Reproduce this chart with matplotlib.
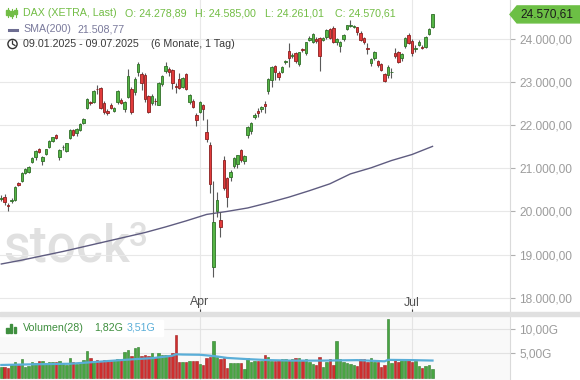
import matplotlib
matplotlib.use("Agg")
import matplotlib.pyplot as plt
import numpy as np
from matplotlib.patches import Polygon, Rectangle, Circle
from matplotlib.lines import Line2D
from matplotlib.transforms import IdentityTransform, blended_transform_factory

plt.rcParams['font.family'] = ['Liberation Sans', 'DejaVu Sans']

# ---------------- data ----------------
opens = [
    20290, 20330, 20160, 20250, 20265, 20665, 20710, 20890, 20910, 21150,
    21255, 21450, 21175, 21330, 21485, 21640, 21775, 21270, 21490, 21410,
    21695, 21890, 21810, 21890, 22060, 22390, 22530, 22545, 22840, 22855,
    22510, 22330, 22470, 22340, 22545, 22585, 22375, 22660, 22830, 22780,
    23227, 23190, 23165, 22680, 22510, 22570, 22476, 22955, 23265, 23296,
    23280, 22910, 23080, 22890, 23190, 22545, 22560, 22237, 22314, 22470,
    21849, 21541, 18717, 20009, 19800, 21192, 20775, 20790, 21053, 21100,
    21416, 21169, 21772, 21872, 22200, 22330, 22380, 22485, 22794, 23049,
    23374, 23218, 23241, 23460, 23729, 23600, 23682, 23413, 23770, 23682,
    23977, 23938, 24000, 24015, 23977, 24039, 24232, 24248, 23938, 23838,
    23992, 24232, 24302, 24290, 24267, 24131, 24015, 23790, 23436, 23566,
    23482, 23413, 23181, 23165, 23230, 23667, 23690, 23552, 23845, 24093,
    23954, 23770, 23861, 23822, 23822, 24108, 24278.89]
highs = [
    20380, 20400, 20200, 20320, 20590, 20690, 20920, 21000, 21050, 21270,
    21420, 21480, 21290, 21450, 21650, 21730, 21800, 21440, 21530, 21590,
    21920, 21910, 21930, 22040, 22160, 22630, 22560, 22810, 22930, 22880,
    22560, 22380, 22520, 22430, 22810, 22630, 22560, 23300, 22880, 23120,
    23475, 23230, 23200, 22710, 22720, 22640, 23000, 23160, 23476, 23340,
    23300, 22990, 23200, 23130, 23200, 22720, 22600, 22280, 22560, 22500,
    22137, 21600, 20700, 20457, 19995, 21285, 20800, 20960, 21260, 21320,
    21450, 21320, 21990, 22080, 22280, 22400, 22440, 22560, 23100, 23380,
    23400, 23260, 23380, 23520, 23914, 23680, 23700, 23710, 23800, 23940,
    24060, 24130, 24050, 24040, 24050, 24230, 24260, 24300, 24020, 23960,
    24110, 24330, 24441, 24330, 24290, 24180, 24050, 23900, 23560, 23720,
    23520, 23440, 23200, 23400, 23330, 23800, 23720, 23680, 24050, 24150,
    23990, 23850, 23970, 23850, 24080, 24250, 24585.00]
lows = [
    20250, 20150, 20020, 20200, 20240, 20580, 20690, 20870, 20880, 21130,
    21200, 21350, 21080, 21300, 21460, 21600, 21690, 21200, 21420, 21380,
    21680, 21750, 21760, 21860, 22020, 22370, 22480, 22520, 22717, 22380,
    22260, 22230, 22380, 22300, 22500, 22500, 22300, 22620, 22250, 22700,
    23150, 22817, 22540, 22290, 22470, 22480, 22460, 22920, 23200, 23150,
    22833, 22740, 22830, 22860, 22820, 22500, 22400, 21981, 22280, 22120,
    21617, 20434, 18489, 19877, 19406, 20500, 20110, 20700, 21000, 21000,
    21150, 21100, 21700, 21800, 22150, 22200, 22300, 22276, 22720, 22880,
    23060, 23050, 23200, 23430, 23357, 23560, 23450, 23380, 23700, 23620,
    23950, 23900, 23900, 23265, 23950, 24000, 24000, 23900, 23850, 23700,
    23950, 24200, 24280, 24250, 24100, 23950, 23880, 23650, 23380, 23520,
    23360, 23250, 23000, 23088, 23100, 23550, 23450, 23500, 23800, 23880,
    23600, 23700, 23830, 23760, 23800, 24090, 24261.01]
closes = [
    20317, 20215, 20132, 20271, 20575, 20615, 20890, 20985, 21025, 21250,
    21410, 21370, 21255, 21440, 21640, 21717, 21710, 21424, 21505, 21580,
    21890, 21775, 21910, 22030, 22135, 22600, 22505, 22795, 22830, 22410,
    22300, 22280, 22410, 22405, 22790, 22525, 22545, 23140, 22315, 23070,
    23420, 22985, 22600, 22315, 22680, 22560, 22985, 23140, 23375, 23241,
    22990, 22880, 22860, 23100, 22840, 22700, 22430, 22121, 22531, 22369,
    21671, 20636, 19761, 20265, 19645, 20543, 20341, 20925, 21232, 21300,
    21192, 21284, 21965, 22058, 22237, 22290, 22415, 22445, 23065, 23343,
    23227, 23111, 23358, 23480, 23552, 23629, 23497, 23690, 23755, 23923,
    24015, 24116, 23961, 23613, 24015, 24209, 24015, 23923, 23992, 23938,
    24093, 24325, 24323, 24304, 24155, 23977, 23923, 23775, 23529, 23690,
    23397, 23281, 23033, 23358, 23245, 23613, 23474, 23644, 24015, 23900,
    23667, 23790, 23923, 23784, 24054, 24225, 24570.61]
volumes = [  # in G
    2.2, 2.2, 1.9, 2.7, 3.3, 2.6, 3.8, 2.2, 2.3, 3.3,
    3.0, 3.5, 3.5, 3.1, 3.2, 3.3, 3.3, 3.5, 2.8, 2.5,
    4.0, 3.3, 2.8, 3.1, 3.6, 5.5, 4.0, 3.3, 3.6, 3.5,
    3.6, 3.5, 3.4, 3.6, 3.8, 3.8, 5.3, 5.7, 4.4, 6.1,
    6.2, 4.4, 4.6, 4.5, 5.0, 4.3, 5.0, 4.6, 4.6, 4.6,
    5.1, 8.7, 3.3, 3.3, 3.3, 3.5, 3.5, 3.5, 2.8, 2.6,
    4.0, 4.3, 7.5, 4.3, 3.8, 4.0, 1.9, 3.1, 3.1, 3.0,
    3.1, 1.8, 4.0, 3.3, 3.5, 3.5, 3.5, 4.6, 4.3, 3.5,
    3.5, 3.6, 3.8, 3.8, 3.6, 3.8, 4.0, 4.0, 3.6, 3.8,
    3.3, 2.8, 2.6, 4.2, 2.1, 3.3, 3.8, 2.6, 7.5, 3.8,
    3.3, 3.1, 2.8, 2.6, 2.4, 3.8, 3.8, 3.3, 4.0, 3.3,
    3.3, 2.2, 2.5, 12.0, 3.1, 3.8, 3.3, 3.6, 3.6, 3.8,
    3.3, 3.4, 2.4, 2.0, 2.4, 2.6, 1.82]

sma_idx = [0, 6, 12, 18, 24, 30, 36, 42, 48, 54, 60, 66, 72, 78, 84, 90,
           96, 102, 108, 114, 120, 126]
sma_val = [18780, 18870, 18970, 19070, 19180, 19290, 19400, 19510, 19640,
           19780, 19930, 20000, 20080, 20200, 20330, 20480, 20640, 20870,
           21010, 21180, 21320, 21508.77]

vma_idx = [0, 10, 20, 29, 39, 44, 50, 51, 53, 58, 62, 66, 72, 78, 85, 94,
           104, 112, 113, 120, 126]
vma_val = [2.6, 2.75, 2.85, 3.3, 3.8, 4.0, 4.5, 4.8, 4.75, 4.7, 4.45, 4.05,
           3.8, 3.6, 3.5, 3.5, 3.6, 3.35, 3.65, 3.6, 3.51]

month_labels = ['Apr', 'Jul']
month_pos = [58, 120]
price_ticks = [18000, 19000, 20000, 21000, 22000, 23000, 24000]
vol_ticks = [5, 10]

assert len(opens) == len(highs) == len(lows) == len(closes) == len(volumes) == 127

# ---------------- helpers ----------------
W, H = 580, 380


def fx(px):
    return px / W


def fy(py):
    return 1 - py / H


def de(v, d=2):
    s = f"{v:,.{d}f}"
    return s.replace(',', 'X').replace('.', ',').replace('X', '.')


o = np.array(opens, float)
h = np.array(highs, float)
l = np.array(lows, float)
c = np.array(closes, float)
v = np.array(volumes, float)
x = np.arange(len(o))
up = c >= o

fig = plt.figure(figsize=(W / 100, H / 100), dpi=100)
fig.patch.set_facecolor('white')

# ---------------- price panel ----------------
ax = fig.add_axes([0, fy(312), fx(510), 312 / H])
ax.set_xlim(-0.38, 148.64)
ax.set_ylim(17666, 24905)
ax.set_facecolor('white')

for s in ['top', 'left', 'bottom']:
    ax.spines[s].set_visible(False)
ax.spines['right'].set_color('#dadada')
ax.spines['right'].set_linewidth(0.8)

ax.set_yticks(price_ticks)
ax.set_yticklabels([de(t) for t in price_ticks])
ax.yaxis.tick_right()
ax.tick_params(axis='y', length=3.5, width=0.8, color='#b0b0b0', pad=3,
               labelsize=8.6, labelcolor='#9c9c9c')
ax.set_xticks([])
ax.grid(axis='y', color='#e8e8e8', lw=0.8)
ax.set_axisbelow(True)
for p in month_pos:
    ax.axvline(p, color='#e8e8e8', lw=0.8, zorder=0)

# watermark
ax.text(fx(3), fy(262), 'stock', transform=fig.transFigure, fontsize=37,
        family=['Roboto', 'DejaVu Sans'], fontweight='medium',
        color='#e0e0e0', zorder=0.5, va='baseline', ha='left')
ax.text(fx(129), fy(246), '3', transform=fig.transFigure, fontsize=24,
        family=['Roboto', 'DejaVu Sans'], fontweight='medium',
        color='#e0e0e0', zorder=0.5, va='baseline', ha='left')

# SMA
ax.plot(sma_idx, sma_val, color='#5f5c80', lw=1.0, zorder=2.5)

# candles
ax.vlines(x, l, h, color='#5a5a5a', lw=0.8, zorder=3)
bottoms = np.minimum(o, c)
heights = np.maximum(np.abs(c - o), 10)
fill = np.where(up, '#55b545', '#e23b3b')
edge = np.where(up, '#2f6f28', '#8a1f1f')
ax.bar(x, heights, bottom=bottoms, width=0.72, color=fill, edgecolor=edge,
       lw=0.6, zorder=4)

# month labels
bt = blended_transform_factory(ax.transData, fig.transFigure)
for p, lab in zip(month_pos, month_labels):
    ax.text(p, fy(302.5), lab, transform=bt, ha='center', va='center',
            fontsize=8.8, color='#505050', clip_on=False)
ax.vlines(month_pos, fy(312), fy(308.5), transform=bt, color='#444444',
          lw=0.8, clip_on=False)

# ---------------- volume panel ----------------
axv = fig.add_axes([0, 0, fx(510), 65 / H])
axv.set_xlim(-0.38, 148.64)
axv.set_ylim(-0.49, 12.88)
axv.set_facecolor('#f9f9f9')
for s in ['top', 'left', 'bottom']:
    axv.spines[s].set_visible(False)
axv.spines['right'].set_color('#dadada')
axv.spines['right'].set_linewidth(0.8)
axv.set_yticks(vol_ticks)
axv.set_yticklabels([de(t) + 'G' for t in vol_ticks])
axv.yaxis.tick_right()
axv.tick_params(axis='y', length=3.5, width=0.8, color='#b0b0b0', pad=3,
                labelsize=8.6, labelcolor='#9c9c9c')
axv.set_xticks([])
axv.grid(axis='y', color='#e2e2e2', lw=0.8)
axv.set_axisbelow(True)
for p in month_pos:
    axv.axvline(p, color='#e4e4e4', lw=0.8, zorder=0)

vfill = np.where(up, '#48a542', '#cf2e2e')
vedge = np.where(up, '#2e7d2a', '#9e1f1f')
axv.bar(x, v, width=0.72, color=vfill, edgecolor=vedge, lw=0.4, zorder=2)
axv.plot(vma_idx, vma_val, color='#5aaed8', lw=1.6, zorder=3)

# separator band
fig.add_artist(Rectangle((0, fy(315.5)), 1, 3.2 / H, transform=fig.transFigure,
                         color='#e0e0e0', zorder=5))

# ---------------- legends ----------------
green_txt = '#72bd45'
fs = 7.7
fig.text(fx(23), fy(13), 'DAX (XETRA, Last)', color=green_txt, fontsize=fs, va='center')
fig.text(fx(125), fy(13), 'O: ' + de(opens[-1]), color=green_txt, fontsize=fs, va='center')
fig.text(fx(195), fy(13), 'H: ' + de(highs[-1]), color=green_txt, fontsize=fs, va='center')
fig.text(fx(265), fy(13), 'L: ' + de(lows[-1]), color=green_txt, fontsize=fs, va='center')
fig.text(fx(335), fy(13), 'C: ' + de(closes[-1]), color=green_txt, fontsize=fs, va='center')

# candle icon
for cx, (y1, y2, b1, b2) in zip([7.5, 11.5, 15.5],
                                [(8, 17, 10, 15), (9, 18, 11, 16), (8, 17, 10, 14)]):
    fig.add_artist(Line2D([cx, cx], [H - y1, H - y2], transform=IdentityTransform(),
                          color=green_txt, lw=0.8))
    fig.add_artist(Rectangle((cx - 1.2, H - b2), 2.4, b2 - b1, transform=IdentityTransform(),
                             color=green_txt))

sma_col = '#7a7a9c'
fig.text(fx(23), fy(29), 'SMA(200)', color=sma_col, fontsize=fs, va='center')
fig.text(fx(78), fy(29), de(sma_val[-1]), color=sma_col, fontsize=fs, va='center')
fig.add_artist(Line2D([9, 17], [H - 29.5, H - 29.5], transform=IdentityTransform(),
                      color='#6e6e92', lw=2.2))

fig.text(fx(23), fy(44), '09.01.2025 - 09.07.2025', color='#3a3a3a', fontsize=fs, va='center')
fig.text(fx(151), fy(44), '(6 Monate, 1 Tag)', color='#3a3a3a', fontsize=fs, va='center')
fig.add_artist(Circle((12.5, H - 44), 4.6, transform=IdentityTransform(), fill=False,
                      ec='#333333', lw=1.0))
fig.add_artist(Line2D([12.5, 12.5, 15], [H - 41, H - 44, H - 45.5],
                      transform=IdentityTransform(), color='#333333', lw=0.9))

# volume legend
fig.add_artist(Rectangle((0, H - 336), 163, 16, transform=IdentityTransform(),
                         color='white', zorder=6))
vg = '#3f8f3f'
for bx, bh in zip([7.5, 11.2, 14.9], [5, 9, 6]):
    fig.add_artist(Rectangle((bx - 1.3, H - 333), 2.6, bh, transform=IdentityTransform(),
                             color=vg, zorder=7))
fig.text(fx(23), fy(328), 'Volumen(28)', color=vg, fontsize=fs, va='center', zorder=8)
fig.text(fx(94), fy(328), de(volumes[-1]) + 'G', color=vg, fontsize=fs, va='center', zorder=8)
fig.text(fx(127), fy(328), de(vma_val[-1]) + 'G', color='#5aaed8', fontsize=fs,
         va='center', zorder=8)

# last price tag
fig.canvas.draw()
ty = ax.transData.transform((0, closes[-1]))[1]
tag = Polygon([(510, ty), (517, ty + 8.5), (580, ty + 8.5), (580, ty - 8.5), (517, ty - 8.5)],
              closed=True, transform=IdentityTransform(), color='#6cbf45', zorder=9)
fig.add_artist(tag)
fig.text(fx(520.5), ty / H, de(closes[-1]), color='#1c1c1c', fontsize=8.6,
         va='center', ha='left', zorder=10)

fig.savefig('out.png', dpi=100)
